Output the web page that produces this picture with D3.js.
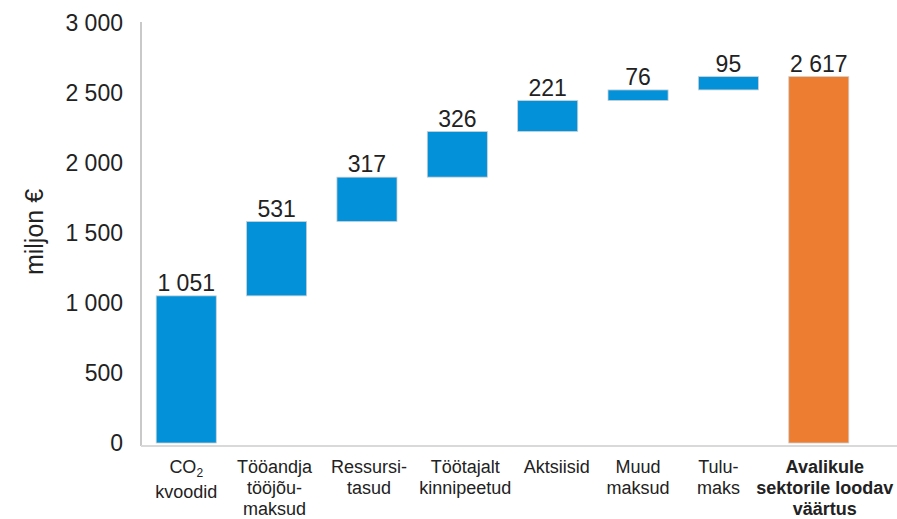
<!DOCTYPE html>
<html>
<head>
<meta charset="utf-8">
<script src="https://cdn.jsdelivr.net/npm/d3@7"></script>
<style>
  body { margin: 0; background: #fff; }
  text { font-family: "Liberation Sans", Arial, sans-serif; fill: #222; }
</style>
</head>
<body>
<div id="chart"></div>
<script>
const categories = [
  ["CO2", "kvoodid"],
  ["Tööandja", "tööjõu-", "maksud"],
  ["Ressursi-", "tasud"],
  ["Töötajalt", "kinnipeetud"],
  ["Aktsiisid"],
  ["Muud", "maksud"],
  ["Tulu-", "maks"],
  ["Avalikule", "sektorile loodav", "väärtus"]
]
const values = [1051, 531, 317, 326, 221, 76, 95, 2617]
const isTotal = [false, false, false, false, false, false, false, true]
const yTicks = [0, 500, 1000, 1500, 2000, 2500, 3000]

const W = 897, H = 519
const margin = {top: 23, left: 141, right: 33, bottom: 75}
const fmt = v => d3.format(",")(v).replace(/,/g, " ")
// category labels are not exactly centred under their bars in the original
const labelShift = [0, -2, 2, 8, 9, 0, -10, 6]

const svg = d3.select("#chart").append("svg")
  .attr("width", W).attr("height", H)

const x = d3.scaleBand()
  .domain(d3.range(values.length))
  .range([margin.left, W - margin.right])
  .paddingInner(0.335).paddingOuter(0.168)

const y = d3.scaleLinear().domain([0, 3000]).range([H - margin.bottom - 1, margin.top])

// waterfall starts / ends
let run = 0
const bars = values.map((v, i) => {
  if (isTotal[i]) return {i, v, y0: 0, y1: v}
  const b = {i, v, y0: run, y1: run + v}
  run += v
  return b
})

// axes lines
svg.append("line")
  .attr("x1", margin.left).attr("x2", margin.left)
  .attr("y1", y(3000) - 1).attr("y2", y(0) + 3)
  .attr("stroke", "#c9c9c9").attr("stroke-width", 2)
svg.append("line")
  .attr("x1", margin.left).attr("x2", W)
  .attr("y1", y(0) + 3).attr("y2", y(0) + 3)
  .attr("stroke", "#d9d9d9").attr("stroke-width", 2)

// y tick labels
svg.selectAll(".ytick").data(yTicks).enter().append("text")
  .attr("x", 123).attr("y", d => y(d))
  .attr("dy", "0.36em")
  .attr("text-anchor", "end")
  .attr("font-size", 23)
  .text(d => fmt(d))

svg.append("text")
  .attr("transform", "translate(43,232) rotate(-90)")
  .attr("text-anchor", "middle")
  .attr("font-size", 25)
  .text("miljon €")

// bars
svg.selectAll(".bar").data(bars).enter().append("rect")
  .attr("x", d => x(d.i))
  .attr("width", x.bandwidth())
  .attr("y", d => y(d.y1))
  .attr("height", d => y(d.y0) - y(d.y1))
  .attr("fill", d => isTotal[d.i] ? "#ed7d31" : "#0391da")
  .attr("stroke", "#d0d0d0").attr("stroke-width", 0.8)

// value labels
svg.selectAll(".val").data(bars).enter().append("text")
  .attr("x", d => x(d.i) + x.bandwidth() / 2)
  .attr("y", d => y(d.y1) - 5)
  .attr("text-anchor", "middle")
  .attr("font-size", 23)
  .text(d => fmt(d.v))

// category labels
categories.forEach((lines, i) => {
  const cx = x(i) + x.bandwidth() / 2 + labelShift[i]
  const t = svg.append("text")
    .attr("x", cx)
    .attr("y", 473)
    .attr("text-anchor", "middle")
    .attr("font-size", 18)
    .attr("font-weight", isTotal[i] ? "bold" : "normal")
  lines.forEach((line, j) => {
    const ts = t.append("tspan")
      .attr("x", cx)
      .attr("dy", j === 0 ? 0 : 21)
    if (line === "CO2") {
      ts.text("CO")
      ts.append("tspan").attr("font-size", 12).attr("dy", 4).text("2")
    } else {
      ts.text(line)
    }
  })
})
</script>
</body>
</html>
